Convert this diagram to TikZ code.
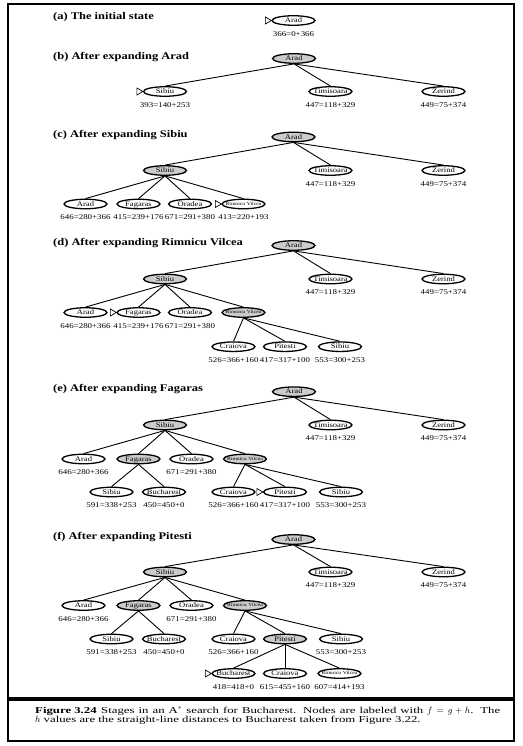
\documentclass[tikz,border=0pt]{standalone}
\usepackage{fontspec}
\setmainfont{Liberation Serif}[FakeStretch=1.22]
\newfontfamily\capfont{Liberation Serif}[FakeStretch=1.42]
\usetikzlibrary{shapes.geometric}
\newcommand\ndtxt[1]{\makebox[0pt]{#1}}
\newcommand\startmark[1]{\draw[line width=0.7pt] (#1.west) -- ++(-6,-3.5) -- ++(0,7) -- cycle;}
\begin{document}
\begin{tikzpicture}[x=1pt,y=-1pt,
  nd/.style={ellipse, draw, line width=1.3pt, minimum width=43pt, minimum height=9.5pt, inner sep=0pt, fill=white,
    font=\fontsize{7}{7}\selectfont, text height=4.6pt, text depth=0.4pt},
  ex/.style={nd, fill=gray!40},
  rv/.style={font=\fontsize{4.7}{5}\selectfont, text height=3.3pt, text depth=0.6pt},
  lbl/.style={font=\fontsize{7.3}{7.3}\selectfont, inner sep=0pt},
  ttl/.style={font=\fontsize{10.2}{12}\selectfont\bfseries, inner sep=0pt, anchor=west},
  captxt/.style={font=\capfont\fontsize{9}{9}\selectfont, inner sep=0pt, anchor=base west},
  conn/.style={line width=0.9pt}]
\useasboundingbox (0,0) rectangle (522,746);
\draw[line width=2pt] (8,4) rectangle (514,741);
\draw[line width=3.8pt] (8,699) -- (514,699);
% (a)
\node[ttl] (ta) at (53,17.5) {(a) The initial state};
\node[nd] (a0) at (293.5,20.5) {\ndtxt{Arad}};
\startmark{a0}
\node[lbl] (la0) at ([yshift=-8.2pt]a0.south) {366=0+366};
% (b)
\node[ttl] (tb) at (53,57) {(b) After expanding Arad};
\node[ex] (b0) at (294,58.5) {\ndtxt{Arad}};
\node[nd] (b1) at (165,91.5) {\ndtxt{Sibiu}};
\node[nd] (b2) at (330.5,91.5) {\ndtxt{Timisoara}};
\node[nd] (b3) at (443.5,91.5) {\ndtxt{Zerind}};
\startmark{b1}
\foreach \c in {b1,b2,b3} \draw[conn] (b0.south) -- (\c.north);
\node[lbl] (lb1) at ([yshift=-8.2pt]b1.south) {393=140+253};
\node[lbl] (lb2) at ([yshift=-8.2pt]b2.south) {447=118+329};
\node[lbl] (lb3) at ([yshift=-8.2pt]b3.south) {449=75+374};
% (c)
\node[ttl] (tc) at (53,135) {(c) After expanding Sibiu};
\node[ex] (c0) at (293.5,137) {\ndtxt{Arad}};
\node[ex] (c1) at (165,170.5) {\ndtxt{Sibiu}};
\node[nd] (c2) at (330.5,170.5) {\ndtxt{Timisoara}};
\node[nd] (c3) at (443.5,170.5) {\ndtxt{Zerind}};
\node[nd] (c4) at (85.5,204) {\ndtxt{Arad}};
\node[nd] (c5) at (138.5,204) {\ndtxt{Fagaras}};
\node[nd] (c6) at (190,204) {\ndtxt{Oradea}};
\node[nd,rv] (c7) at (243.5,204) {\ndtxt{Rimnicu Vilcea}};
\startmark{c7}
\foreach \c in {c1,c2,c3} \draw[conn] (c0.south) -- (\c.north);
\foreach \c in {c4,c5,c6,c7} \draw[conn] (c1.south) -- (\c.north);
\node[lbl] (lc2) at ([yshift=-8.2pt]c2.south) {447=118+329};
\node[lbl] (lc3) at ([yshift=-8.2pt]c3.south) {449=75+374};
\node[lbl] (lc4) at ([yshift=-8.2pt]c4.south) {646=280+366};
\node[lbl] (lc5) at ([yshift=-8.2pt]c5.south) {415=239+176};
\node[lbl] (lc6) at ([yshift=-8.2pt]c6.south) {671=291+380};
\node[lbl] (lc7) at ([yshift=-8.2pt]c7.south) {413=220+193};
% (d)
\node[ttl] (td) at (53,243.5) {(d) After expanding Rimnicu Vilcea};
\node[ex] (d0) at (293.5,245.5) {\ndtxt{Arad}};
\node[ex] (d1) at (165,279) {\ndtxt{Sibiu}};
\node[nd] (d2) at (330.5,279) {\ndtxt{Timisoara}};
\node[nd] (d3) at (443.5,279) {\ndtxt{Zerind}};
\node[nd] (d4) at (85.5,312.5) {\ndtxt{Arad}};
\node[nd] (d5) at (138.5,312.5) {\ndtxt{Fagaras}};
\node[nd] (d6) at (190,312.5) {\ndtxt{Oradea}};
\node[ex,rv] (d7) at (243.5,312.5) {\ndtxt{Rimnicu Vilcea}};
\node[nd] (d8) at (233.5,346.7) {\ndtxt{Craiova}};
\node[nd] (d9) at (285,346.7) {\ndtxt{Pitesti}};
\node[nd] (d10) at (340,346.7) {\ndtxt{Sibiu}};
\startmark{d5}
\foreach \c in {d1,d2,d3} \draw[conn] (d0.south) -- (\c.north);
\foreach \c in {d4,d5,d6,d7} \draw[conn] (d1.south) -- (\c.north);
\foreach \c in {d8,d9,d10} \draw[conn] (d7.south) -- (\c.north);
\node[lbl] (ld2) at ([yshift=-8.2pt]d2.south) {447=118+329};
\node[lbl] (ld3) at ([yshift=-8.2pt]d3.south) {449=75+374};
\node[lbl] (ld4) at ([yshift=-8.2pt]d4.south) {646=280+366};
\node[lbl] (ld5) at ([yshift=-8.2pt]d5.south) {415=239+176};
\node[lbl] (ld6) at ([yshift=-8.2pt]d6.south) {671=291+380};
\node[lbl] (ld8) at ([yshift=-8.2pt]d8.south) {526=366+160};
\node[lbl] (ld9) at ([yshift=-8.2pt]d9.south) {417=317+100};
\node[lbl] (ld10) at ([yshift=-8.2pt]d10.south) {553=300+253};
% (e)
\node[ttl] (te) at (53,389) {(e) After expanding Fagaras};
\node[ex] (e0) at (294,391.7) {\ndtxt{Arad}};
\node[ex] (e1) at (165,425) {\ndtxt{Sibiu}};
\node[nd] (e2) at (330.5,425) {\ndtxt{Timisoara}};
\node[nd] (e3) at (443.5,425) {\ndtxt{Zerind}};
\node[nd] (e4) at (83.5,459) {\ndtxt{Arad}};
\node[ex] (e5) at (138.5,459) {\ndtxt{Fagaras}};
\node[nd] (e6) at (191.5,459) {\ndtxt{Oradea}};
\node[ex,rv] (e7) at (245,459) {\ndtxt{Rimnicu Vilcea}};
\node[nd] (e8) at (111.5,492) {\ndtxt{Sibiu}};
\node[nd] (e9) at (164,492) {\ndtxt{Bucharest}};
\node[nd] (e10) at (233.5,492) {\ndtxt{Craiova}};
\node[nd] (e11) at (285,492) {\ndtxt{Pitesti}};
\node[nd] (e12) at (341,492) {\ndtxt{Sibiu}};
\startmark{e11}
\foreach \c in {e1,e2,e3} \draw[conn] (e0.south) -- (\c.north);
\foreach \c in {e4,e5,e6,e7} \draw[conn] (e1.south) -- (\c.north);
\foreach \c in {e8,e9} \draw[conn] (e5.south) -- (\c.north);
\foreach \c in {e10,e11,e12} \draw[conn] (e7.south) -- (\c.north);
\node[lbl] (le2) at ([yshift=-8.2pt]e2.south) {447=118+329};
\node[lbl] (le3) at ([yshift=-8.2pt]e3.south) {449=75+374};
\node[lbl] (le4) at ([yshift=-8.2pt]e4.south) {646=280+366};
\node[lbl] (le6) at ([yshift=-8.2pt]e6.south) {671=291+380};
\node[lbl] (le8) at ([yshift=-8.2pt]e8.south) {591=338+253};
\node[lbl] (le9) at ([yshift=-8.2pt]e9.south) {450=450+0};
\node[lbl] (le10) at ([yshift=-8.2pt]e10.south) {526=366+160};
\node[lbl] (le11) at ([yshift=-8.2pt]e11.south) {417=317+100};
\node[lbl] (le12) at ([yshift=-8.2pt]e12.south) {553=300+253};
% (f)
\node[ttl] (tf) at (53,537) {(f) After expanding Pitesti};
\node[ex] (f0) at (293.5,539.5) {\ndtxt{Arad}};
\node[ex] (f1) at (165,572) {\ndtxt{Sibiu}};
\node[nd] (f2) at (330.5,572) {\ndtxt{Timisoara}};
\node[nd] (f3) at (443.5,572) {\ndtxt{Zerind}};
\node[nd] (f4) at (83.5,605.5) {\ndtxt{Arad}};
\node[ex] (f5) at (138.5,605.5) {\ndtxt{Fagaras}};
\node[nd] (f6) at (191.5,605.5) {\ndtxt{Oradea}};
\node[ex,rv] (f7) at (245,605.5) {\ndtxt{Rimnicu Vilcea}};
\node[nd] (f8) at (111.5,639) {\ndtxt{Sibiu}};
\node[nd] (f9) at (164,639) {\ndtxt{Bucharest}};
\node[nd] (f10) at (233.5,639) {\ndtxt{Craiova}};
\node[ex] (f11) at (285,639) {\ndtxt{Pitesti}};
\node[nd] (f12) at (341,639) {\ndtxt{Sibiu}};
\node[nd] (f13) at (233.5,673.5) {\ndtxt{Bucharest}};
\node[nd] (f14) at (285,673.5) {\ndtxt{Craiova}};
\node[nd,rv] (f15) at (339.5,673.5) {\ndtxt{Rimnicu Vilcea}};
\startmark{f13}
\foreach \c in {f1,f2,f3} \draw[conn] (f0.south) -- (\c.north);
\foreach \c in {f4,f5,f6,f7} \draw[conn] (f1.south) -- (\c.north);
\foreach \c in {f8,f9} \draw[conn] (f5.south) -- (\c.north);
\foreach \c in {f10,f11,f12} \draw[conn] (f7.south) -- (\c.north);
\foreach \c in {f13,f14,f15} \draw[conn] (f11.south) -- (\c.north);
\node[lbl] (lf2) at ([yshift=-8.2pt]f2.south) {447=118+329};
\node[lbl] (lf3) at ([yshift=-8.2pt]f3.south) {449=75+374};
\node[lbl] (lf4) at ([yshift=-8.2pt]f4.south) {646=280+366};
\node[lbl] (lf6) at ([yshift=-8.2pt]f6.south) {671=291+380};
\node[lbl] (lf8) at ([yshift=-8.2pt]f8.south) {591=338+253};
\node[lbl] (lf9) at ([yshift=-8.2pt]f9.south) {450=450+0};
\node[lbl] (lf10) at ([yshift=-8.2pt]f10.south) {526=366+160};
\node[lbl] (lf12) at ([yshift=-8.2pt]f12.south) {553=300+253};
\node[lbl] (lf13) at ([yshift=-8.2pt]f13.south) {418=418+0};
\node[lbl] (lf14) at ([yshift=-8.2pt]f14.south) {615=455+160};
\node[lbl] (lf15) at ([yshift=-8.2pt]f15.south) {607=414+193};
% caption
\node[captxt] (cp1) at (35,713) {\textbf{Figure 3.24}};
\node[captxt] (cp2) at (101,713) {\hbox to 399pt{Stages in an A$^*$ search for Bucharest. Nodes are labeled with $f=g+h$. The}};
\node[captxt] (cp3) at (35,722.5) {$h$ values are the straight-line distances to Bucharest taken from Figure 3.22.};
\end{tikzpicture}
\end{document}
